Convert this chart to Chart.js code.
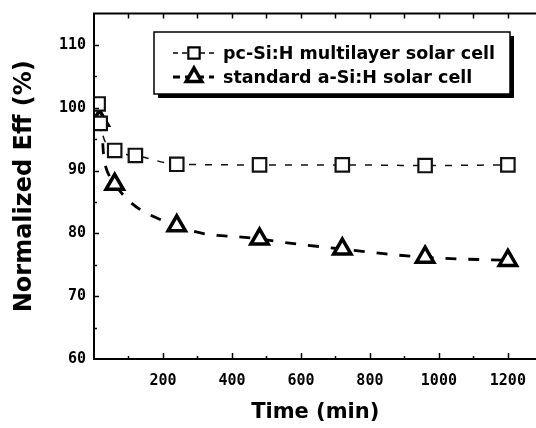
<!DOCTYPE html>
<html><head><meta charset="utf-8">
<script src="https://cdn.jsdelivr.net/npm/chart.js@4/dist/chart.umd.min.js"></script>
<style>html,body{margin:0;padding:0;background:#fff;overflow:hidden}#wrap{width:536px;height:428px;position:relative;overflow:hidden}canvas{display:block}</style>
</head><body><div id="wrap"><canvas id="c" width="550" height="428"></canvas></div>
<script>
const seriesNames = ['pc-Si:H multilayer solar cell', 'standard a-Si:H solar cell'];
const pcTime = [12, 18, 60, 120, 240, 480, 720, 960, 1200];
const pcEff  = [100.6, 97.5, 93.2, 92.4, 91.0, 90.9, 90.9, 90.8, 90.9];
const stdTime = [16, 60, 240, 480, 720, 960, 1200];
const stdEff  = [98.0, 87.8, 81.2, 79.1, 77.5, 76.2, 75.7];
const xTickLabels = [200, 400, 600, 800, 1000, 1200];
const yTickLabels = [60, 70, 80, 90, 100, 110];
const xTitle = 'Time (min)';
const yTitle = 'Normalized Eff (%)';

const toPts = (xs, ys) => xs.map((t, i) => ({x: t, y: ys[i]}));

const framePlugin = {
  id: 'frame',
  afterDatasetsDraw(chart) {
    const {ctx, chartArea: a, scales: {x, y}} = chart;
    ctx.save();
    ctx.strokeStyle = '#000';
    ctx.lineWidth = 2;
    ctx.beginPath();
    ctx.moveTo(a.right + 20, a.top); ctx.lineTo(a.left, a.top);
    ctx.lineTo(a.left, a.bottom); ctx.lineTo(a.right + 20, a.bottom);
    ctx.stroke();
    ctx.lineWidth = 1.5;
    ctx.beginPath();
    for (let v = 100; v <= x.max; v += 100) {
      const px = Math.round(x.getPixelForValue(v)) + 0.5;
      const major = v % 200 === 0;
      ctx.moveTo(px, a.bottom); ctx.lineTo(px, a.bottom - (major ? 6 : 3));
      ctx.moveTo(px, a.top); ctx.lineTo(px, a.top + 5);
    }
    for (let v = y.min + 5; v < y.max; v += 5) {
      const py = Math.round(y.getPixelForValue(v)) + 0.5;
      const major = v % 10 === 0;
      ctx.moveTo(a.left, py); ctx.lineTo(a.left + (major ? 5 : 3), py);
    }
    ctx.stroke();
    ctx.restore();
  },
  afterDraw(chart) {
    const ctx = chart.ctx;
    const bx = 154, by = 32, bw = 356, bh = 62;
    ctx.save();
    ctx.fillStyle = '#000';
    ctx.fillRect(bx + 4, by + 4, bw, bh);
    ctx.fillStyle = '#fff';
    ctx.fillRect(bx, by, bw, bh);
    ctx.strokeStyle = '#000';
    ctx.lineWidth = 1.5;
    ctx.strokeRect(bx, by, bw, bh);
    const rows = [53, 77];
    chart.data.datasets.forEach((ds, i) => {
      const ry = rows[i];
      ctx.save();
      ctx.strokeStyle = '#000';
      ctx.lineWidth = ds.borderWidth;
      ctx.setLineDash(i === 0 ? [5, 4] : [7, 5]);
      ctx.beginPath(); ctx.moveTo(173, ry); ctx.lineTo(214, ry); ctx.stroke();
      ctx.restore();
      ctx.save();
      ctx.fillStyle = '#fff';
      ctx.strokeStyle = '#000';
      ctx.lineWidth = ds.pointBorderWidth;
      Chart.helpers.drawPoint(ctx, {
        pointStyle: ds.pointStyle, radius: i === 0 ? 8 : 9, rotation: 0,
        borderWidth: ds.pointBorderWidth
      }, 194, ry);
      ctx.restore();
      ctx.fillStyle = '#000';
      ctx.font = 'bold 17.5px "DejaVu Sans"';
      ctx.textBaseline = 'middle';
      ctx.fillText(ds.label, 223, ry + 1);
    });
    ctx.restore();
  }
};

new Chart(document.getElementById('c'), {
  type: 'line',
  data: {
    datasets: [
      {
        label: seriesNames[0],
        data: toPts(pcTime, pcEff),
        borderColor: '#111', borderWidth: 1.5, borderDash: [7, 9],
        cubicInterpolationMode: 'monotone',
        pointStyle: 'rect', pointRadius: 9.5, pointBorderWidth: 2.2,
        pointBackgroundColor: '#fff', pointBorderColor: '#111'
      },
      {
        label: seriesNames[1],
        data: toPts(stdTime, stdEff),
        borderColor: '#000', borderWidth: 2.8, borderDash: [11, 12],
        tension: 0.45,
        pointStyle: 'triangle', pointRadius: 10, pointBorderWidth: 3.5,
        pointBackgroundColor: '#fff', pointBorderColor: '#000'
      }
    ]
  },
  options: {
    responsive: false, animation: false, devicePixelRatio: 1,
    layout: {padding: {top: 12, right: 0, left: 0, bottom: 0}},
    plugins: {legend: {display: false}, tooltip: {enabled: false}},
    scales: {
      x: {
        type: 'linear', min: 0, max: 1283,
        grid: {display: false, drawTicks: false}, border: {display: false},
        afterFit: s => { s.height = 69; s.paddingRight = 0; s.paddingLeft = 0; },
        ticks: {
          stepSize: 200, includeBounds: false, padding: 13, maxRotation: 0,
          color: '#000', font: {family: 'DejaVu Sans Mono', weight: 'bold', size: 15},
          callback: v => xTickLabels.includes(v) ? String(v) : ''
        },
        title: {display: true, text: xTitle, color: '#000', padding: {top: 0, bottom: 3},
          font: {family: 'DejaVu Sans', weight: 'bold', size: 21}}
      },
      y: {
        type: 'linear', min: 60, max: 115,
        grid: {display: false, drawTicks: false}, border: {display: false},
        afterFit: s => { s.width = 94; s.paddingTop = 0; s.paddingBottom = 0; },
        ticks: {
          stepSize: 10, includeBounds: false, padding: 8,
          color: '#000', font: {family: 'DejaVu Sans Mono', weight: 'bold', size: 15},
          callback: v => yTickLabels.includes(v) ? String(v) : ''
        },
        title: {display: true, text: yTitle, color: '#000', padding: {top: 10, bottom: 0},
          font: {family: 'DejaVu Sans', weight: 'bold', size: 24}}
      }
    }
  },
  plugins: [framePlugin]
});
</script></body></html>
